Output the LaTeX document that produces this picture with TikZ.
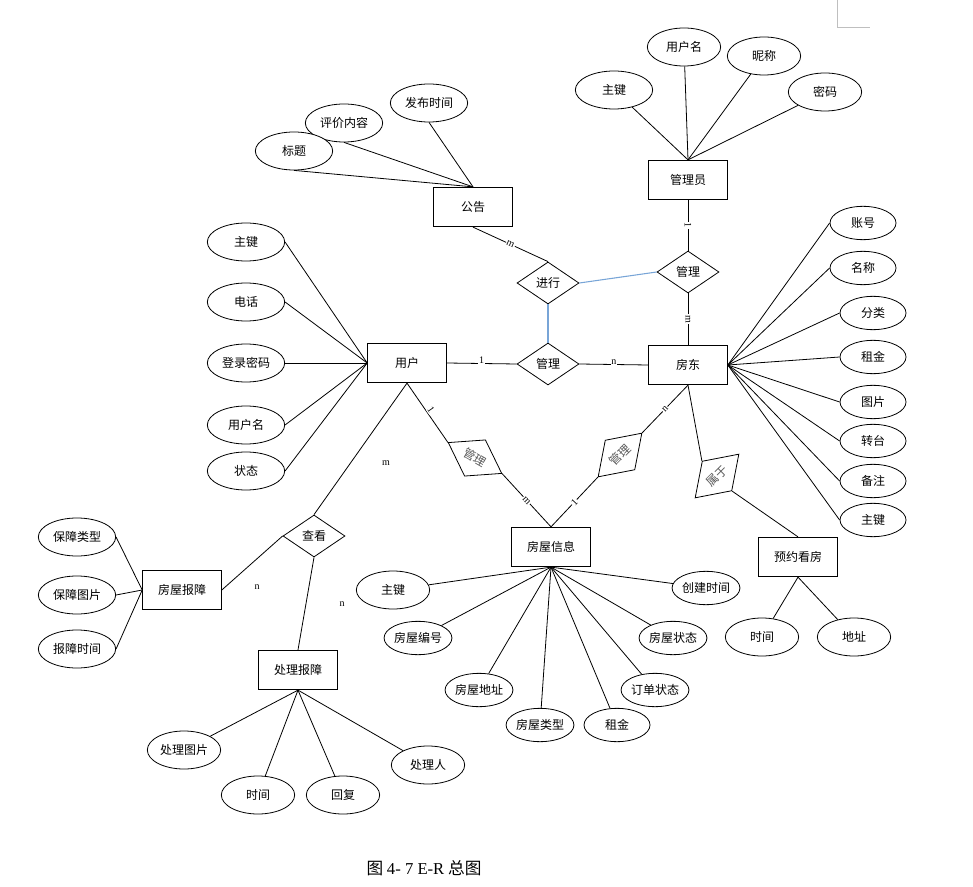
\documentclass[tikz,border=0pt]{standalone}
\usepackage{fontspec}
\setmainfont{Liberation Serif}
\newfontfamily\cjk{Noto Sans CJK SC}
\usetikzlibrary{shapes.geometric}
\definecolor{lineblue}{RGB}{120,165,215}

\begin{document}
\begin{tikzpicture}[x=0.75pt,y=-0.75pt,
  every node/.style={font=\cjk\fontsize{9}{11}\selectfont},
  entity/.style={rectangle,draw,line width=0.7pt,minimum width=59pt,minimum height=29.5pt,inner sep=1pt},
  attr/.style={ellipse,draw,fill=white,line width=0.6pt,minimum width=58pt,minimum height=28.5pt,inner sep=0pt},
  attrs/.style={attr,minimum width=49.5pt,minimum height=25pt},
  rel/.style={diamond,draw,line width=0.6pt,minimum width=46.5pt,minimum height=31.5pt,inner sep=0pt,aspect=1.5},
  card/.style={font=\rmfamily\fontsize{7.5}{8}\selectfont,fill=white,inner sep=0.6pt},
  link/.style={line width=0.6pt},
  blueline/.style={line width=0.8pt,draw=lineblue}]
\useasboundingbox (0,0) rectangle (973,887);
\draw[gray!50,line width=0.5pt] (837,0) -- (837,27) -- (870,27);

% 管理员
\node[entity] (admin) at (688,180) {管理员};
\node[attr] (adKey) at (614,90) {主键};
\node[attr,minimum width=55pt] (adUser) at (684,47) {用户名};
\node[attr,minimum width=55pt] (adNick) at (764,56) {昵称};
\node[attr,minimum width=55pt] (adPwd) at (825,92) {密码};
\foreach \a in {adKey,adUser,adNick,adPwd}
  \draw[link] (\a) -- (admin.north);

% 公告
\node[entity] (notice) at (473,207) {公告};
\node[attr] (ntText) at (344,123) {评价内容};
\node[attr] (ntTitle) at (294,151) {标题};
\node[attr] (ntTime) at (429,103) {发布时间};
\foreach \a in {ntTitle,ntText,ntTime}
  \draw[link] (\a.south) -- (notice.north);

% 用户
\node[entity] (user) at (407,363) {用户};
\node[attr] (uKey) at (246,242) {主键};
\node[attr] (uPhone) at (246,302) {电话};
\node[attr] (uPwd) at (246,363) {登录密码};
\node[attr] (uName) at (246,425) {用户名};
\node[attr] (uState) at (246,471) {状态};
\foreach \a in {uKey,uPhone,uPwd,uName,uState}
  \draw[link] (\a.east) -- (user.west);

% 房东
\node[entity] (landlord) at (688,365) {房东};
\node[attrs] (llAcc) at (863,223) {账号};
\node[attrs] (llName) at (863,268) {名称};
\node[attrs] (llType) at (873,313) {分类};
\node[attrs] (llRent) at (873,357) {租金};
\node[attrs] (llPic) at (873,402) {图片};
\node[attrs] (llTurn) at (873,441) {转台};
\node[attrs] (llNote) at (873,481) {备注};
\node[attrs] (llKey) at (873,520) {主键};
\foreach \a in {llAcc,llName,llType,llRent,llPic,llTurn,llNote,llKey}
  \draw[link] (landlord.east) -- (\a.west);

% 联系
\node[rel] (doRel) at (548,283) {进行};
\node[rel] (adminRel) at (688,272) {管理};
\node[rel] (manageRel) at (548,364) {管理};
\node[rel] (viewRel) at (314,536) {查看};
\node[rel,rotate=-30,text=black!65] (userHouse) at (475,458) {管理};
\node[rel,rotate=45,text=black!65] (llHouse) at (620,455) {管理};
\node[rel,rotate=45,text=black!65] (belongRel) at (717,476) {属于};

% 房屋信息
\node[entity] (house) at (551,547) {房屋信息};
\node[attr,minimum width=55pt] (hKey) at (393,590) {主键};
\node[attrs] (hNo) at (418,638) {房屋编号};
\node[attrs] (hAddr) at (479,690) {房屋地址};
\node[attrs] (hType) at (540,725) {房屋类型};
\node[attrs] (hRent) at (617,725) {租金};
\node[attrs] (hOrder) at (655,690) {订单状态};
\node[attrs] (hState) at (673,638) {房屋状态};
\node[attrs] (hTime) at (706,588) {创建时间};
\foreach \a in {hKey,hNo,hAddr,hType,hRent,hOrder,hState,hTime}
  \draw[link] (house.south) -- (\a);

% 预约看房
\node[entity] (booking) at (798,557) {预约看房};
\node[attr,minimum width=55pt] (bkTime) at (762,637) {时间};
\node[attr,minimum width=55pt] (bkAddr) at (854,637) {地址};
\draw[link] (booking.south) -- (bkTime);
\draw[link] (booking.south) -- (bkAddr);

% 房屋报障
\node[entity] (repair) at (182,590) {房屋报障};
\node[attr] (rpType) at (77,537) {保障类型};
\node[attr] (rpPic) at (77,595) {保障图片};
\node[attr] (rpTime) at (77,649) {报障时间};
\foreach \a in {rpType,rpPic,rpTime}
  \draw[link] (\a.east) -- (repair.west);

% 处理报障
\node[entity] (handle) at (298,670) {处理报障};
\node[attr,minimum width=55pt] (hdPic) at (184,750) {处理图片};
\node[attr,minimum width=55pt] (hdTime) at (258,795) {时间};
\node[attr,minimum width=55pt] (hdReply) at (343,795) {回复};
\node[attr,minimum width=55pt] (hdPerson) at (428,765) {处理人};
\foreach \a in {hdPic,hdTime,hdReply,hdPerson}
  \draw[link] (handle.south) -- (\a);

% 连线
\draw[link] (notice.south) -- node[card,sloped]{m} (doRel.north);
\draw[link] (admin.south) -- node[card,sloped]{1} (adminRel.north);
\draw[link] (adminRel.south) -- node[card,sloped]{m} (landlord.north);
\draw[blueline] (doRel.east) -- (adminRel.west);
\draw[blueline] (doRel.south) -- (manageRel.north);
\draw[link] (user.east) -- node[card,above=-1pt]{1} (manageRel.west);
\draw[link] (manageRel.east) -- node[card,above=-1pt]{n} (landlord.west);
\draw[link] (user.south) -- node[card,sloped,above]{1} (userHouse.west);
\draw[link] (userHouse.east) -- node[card,sloped]{m} (house.north);
\draw[link] (house.north) -- node[card,sloped]{1} (llHouse.west);
\draw[link] (llHouse.east) -- node[card,sloped]{n} (landlord.south);
\draw[link] (landlord.south) -- (belongRel.north);
\draw[link] (belongRel.south) -- (booking.north);
\draw[link] (user.south) -- (viewRel.north);
\draw[link] (viewRel.west) -- (repair.east);
\draw[link] (viewRel.south) -- (handle.north);
\node[card] (mView) at (386,463) {m};
\node[card] (nRepair) at (257,587) {n};
\node[card] (nHandle) at (342,604) {n};

\node (caption) at (424,868) {\fontsize{12.5}{14}\selectfont 图 {\rmfamily 4- 7 E-R} 总图};
\end{tikzpicture}
\end{document}
